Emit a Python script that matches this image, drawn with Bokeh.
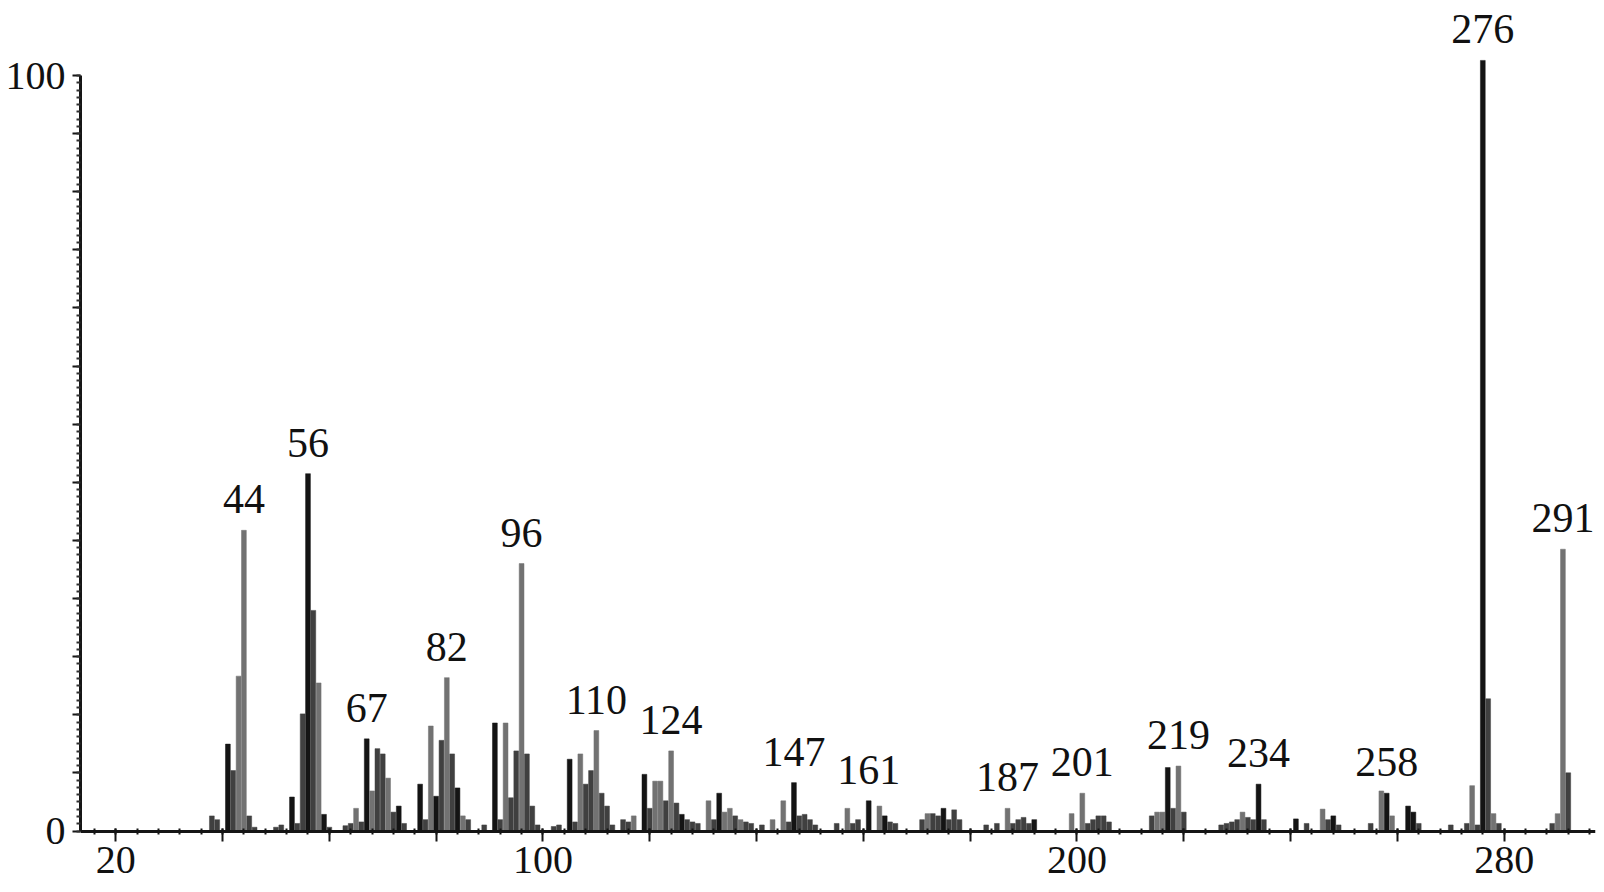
from bokeh.plotting import figure
from bokeh.models import ColumnDataSource, FixedTicker, CustomJSTickFormatter, Range1d
from bokeh.core.properties import value
from bokeh.embed import file_html
from bokeh.resources import INLINE

# ---------------- data ----------------
mz = [38, 39, 41, 42, 43, 44, 45, 46, 50, 51, 53, 54, 55, 56, 57, 58, 59, 60,
      63, 64, 65, 66, 67, 68, 69, 70, 71, 72, 73, 74, 77, 78, 79, 80, 81, 82,
      83, 84, 85, 86, 89, 91, 92, 93, 94, 95, 96, 97, 98, 99, 102, 103, 105,
      106, 107, 108, 109, 110, 111, 112, 113, 115, 116, 117, 119, 120, 121,
      122, 123, 124, 125, 126, 127, 128, 129, 131, 132, 133, 134, 135, 136,
      137, 138, 139, 141, 143, 145, 146, 147, 148, 149, 150, 151, 155, 157,
      158, 159, 161, 163, 164, 165, 166, 171, 172, 173, 174, 175, 176, 177,
      178, 183, 185, 187, 188, 189, 190, 191, 192, 199, 201, 202, 203, 204,
      205, 206, 214, 215, 216, 217, 218, 219, 220, 227, 228, 229, 230, 231,
      232, 233, 234, 235, 241, 243, 246, 247, 248, 249, 255, 257, 258, 259,
      262, 263, 264, 270, 273, 274, 275, 276, 277, 278, 279, 289, 290, 291, 292]
intensity = [2.0, 1.5, 11.5, 8.0, 20.5, 39.8, 2.0, 0.5, 0.5, 0.8, 4.5, 1.0, 15.5, 47.3, 29.2, 19.6, 2.2, 0.5,
             0.7, 1.0, 3.0, 1.2, 12.2, 5.3, 10.9, 10.2, 7.0, 2.5, 3.3, 1.0, 6.2, 1.5, 13.9, 4.6, 12.0, 20.3,
             10.2, 5.7, 2.0, 1.5, 0.8, 14.3, 1.5, 14.3, 4.4, 10.6, 35.4, 10.2, 3.3, 0.8, 0.6, 0.8, 9.5,
             1.2, 10.2, 6.2, 8.0, 13.3, 5.0, 3.3, 0.8, 1.5, 1.2, 2.0, 7.5, 3.0, 6.6,
             6.6, 4.0, 10.6, 3.7, 2.2, 1.5, 1.2, 1.0, 4.0, 1.5, 5.0, 2.5, 3.0, 2.0,
             1.5, 1.2, 1.0, 0.8, 1.5, 4.0, 1.2, 6.4, 2.0, 2.2, 1.5, 0.8, 1.0, 3.0,
             1.0, 1.5, 4.0, 3.3, 2.0, 1.2, 1.0, 1.5, 2.3, 2.3, 2.0, 3.0, 1.5, 2.8,
             1.5, 0.8, 1.0, 3.0, 1.0, 1.5, 1.8, 1.0, 1.5, 2.3, 5.0, 1.0, 1.5, 2.0,
             2.0, 1.2, 2.0, 2.5, 2.5, 8.4, 3.0, 8.6, 2.5, 0.8, 1.0, 1.2, 1.5, 2.5,
             1.8, 1.5, 6.2, 1.5, 1.6, 1.0, 2.9, 1.5, 2.0, 0.8, 1.0, 5.3, 5.0, 2.0,
             3.3, 2.5, 1.0, 0.8, 1.0, 6.0, 0.8, 102.0, 17.5, 2.3, 1.0, 1.0, 2.3, 37.3, 7.7]
labeled_mz = [44, 56, 67, 82, 96, 110, 124, 147, 161, 187, 201, 219, 234, 258, 276, 291]
x_tick_labels = [20, 100, 200, 280]
y_tick_labels = [0, 100]

# ---------------- styles ----------------
BLACK, DARK, GRAY = "#141414", "#404040", "#727272"
black_peaks = {41, 53, 56, 59, 67, 73, 77, 80, 84, 91, 105, 119, 126, 133, 147, 161,
               164, 175, 192, 217, 234, 241, 248, 258, 262, 263, 276}
gray_peaks = {43, 44, 58, 65, 68, 71, 79, 82, 85, 93, 96, 107, 110, 117, 121, 122, 124,
              131, 134, 135, 137, 143, 145, 157, 163, 172, 187, 199, 201, 215, 216, 219,
              231, 246, 257, 259, 274, 278, 290, 291}
colors = [BLACK if m in black_peaks else (GRAY if m in gray_peaks else DARK) for m in mz]

src = ColumnDataSource(dict(x=mz, top=intensity, color=colors))
lookup = dict(zip(mz, intensity))
lab_src = ColumnDataSource(dict(x=labeled_mz, y=[lookup[m] for m in labeled_mz],
                                text=[str(m) for m in labeled_mz]))

FONT = "Liberation Serif"

p = figure(width=1604, height=892, output_backend="svg", toolbar_location=None,
           x_range=Range1d(13.4, 297.1), y_range=Range1d(-8.14, 109.93),
           min_border_left=80, min_border_right=9, min_border_top=0, min_border_bottom=0)
p.outline_line_color = None
p.xgrid.grid_line_color = None
p.ygrid.grid_line_color = None
p.background_fill_color = "white"
p.border_fill_color = "white"

p.vbar(x="x", top="top", bottom=0, width=0.9, source=src,
       fill_color="color", line_color="color", line_width=0.5)

p.text(x="x", y="y", text="text", source=lab_src, text_font=value(FONT),
       text_font_size="42px", text_align="center", text_baseline="alphabetic",
       y_offset=-31, text_color="#111111")

# x axis
xa = p.xaxis[0]
xa.fixed_location = 0
xa.ticker = FixedTicker(ticks=list(range(20, 281, 20)), minor_ticks=list(range(16, 297, 4)))
xa.formatter = CustomJSTickFormatter(args=dict(show=x_tick_labels), code="""
    const t = Math.round(tick);
    return show.includes(t) ? String(t) : "";
""")
xa.axis_line_width = 3
xa.axis_line_color = "#151515"
xa.major_tick_line_width = 2
xa.major_tick_line_color = "#151515"
xa.major_tick_in = 3
xa.major_tick_out = 10
xa.minor_tick_line_width = 2
xa.minor_tick_line_color = "#151515"
xa.minor_tick_in = 3
xa.minor_tick_out = 3
xa.major_label_standoff = 6
xa.major_label_text_font = FONT
xa.major_label_text_font_size = "40px"
xa.major_label_text_color = "#111111"

# y axis
ya = p.yaxis[0]
ya.bounds = (0, 100)
ya.ticker = FixedTicker(ticks=[k * 100 / 13 for k in range(14)],
                        minor_ticks=[k * 100 / 104 for k in range(105)])
ya.formatter = CustomJSTickFormatter(args=dict(show=y_tick_labels), code="""
    for (const s of show) { if (Math.abs(tick - s) < 1e-6) return String(s); }
    return "";
""")
ya.axis_line_width = 3
ya.axis_line_color = "#151515"
ya.major_tick_line_width = 2
ya.major_tick_line_color = "#151515"
ya.major_tick_in = 0
ya.major_tick_out = 8
ya.minor_tick_line_width = 2
ya.minor_tick_line_color = "#303030"
ya.minor_tick_in = 0
ya.minor_tick_out = 4
ya.major_label_standoff = 7
ya.major_label_text_font = FONT
ya.major_label_text_font_size = "40px"
ya.major_label_text_color = "#111111"

open("out.html", "w").write(file_html(p, INLINE))
